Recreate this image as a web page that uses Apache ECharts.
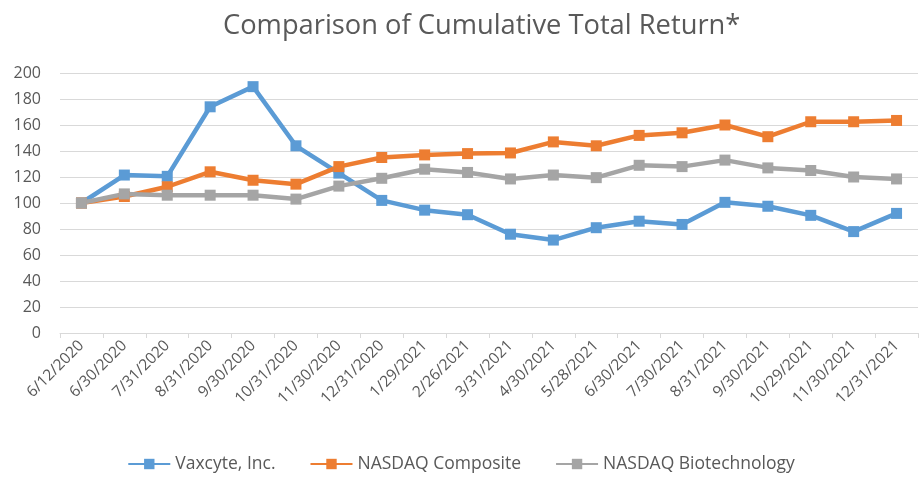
<!DOCTYPE html>
<html><head><meta charset="utf-8">
<script src="https://cdn.jsdelivr.net/npm/echarts@6/dist/echarts.min.js"></script>
<style>html,body{margin:0;padding:0;background:#fff}#c{width:922px;height:477px}</style>
</head><body><div id="c"></div>
<script>
const categories = ["6/12/2020","6/30/2020","7/31/2020","8/31/2020","9/30/2020","10/31/2020","11/30/2020","12/31/2020","1/29/2021","2/26/2021","3/31/2021","4/30/2021","5/28/2021","6/30/2021","7/30/2021","8/31/2021","9/30/2021","10/29/2021","11/30/2021","12/31/2021"];
const vaxcyte = [100,121.5,120.5,174,189.5,144,123,102,94.5,91,76,71.5,81,86,83.5,100.5,97.5,90.5,78,92];
const nasdaqComposite = [100,105,112.5,124,117.5,114.5,128,135,137,138,138.5,147,144,152,154,160,151,162.5,162.5,163.5];
const nasdaqBiotech = [100,107,106,106,106,103,113,119,126,123.5,118.5,121.5,119.5,129,128,133,127,125,120,118.5];
const yTicks = {min:0, max:200, interval:20};

const font = "'Open Sans', 'Liberation Sans', sans-serif";
const chart = echarts.init(document.getElementById('c'));
function mk(name, data, color){
  return {name, type:'line', data, symbol:'rect', symbolSize:11,
    lineStyle:{width:4.5,color}, itemStyle:{color}, color};
}
chart.setOption({
  animation:false,
  title:{text:'Comparison of Cumulative Total Return*', left:218, top:8,
    textStyle:{fontFamily:font, fontSize:27.3, fontWeight:'normal', color:'#595959'}},
  grid:{left:60, right:4, top:73, bottom:144},
  legend:{bottom:-1, left:'center', itemWidth:42, itemHeight:13, itemGap:34,
    textStyle:{fontFamily:font, fontSize:17.5, color:'#595959'},
    data:['Vaxcyte, Inc.','NASDAQ Composite','NASDAQ Biotechnology']},
  xAxis:{type:'category', data:categories, boundaryGap:true,
    axisLine:{lineStyle:{color:'#d9d9d9'}},
    axisTick:{show:true, length:5, lineStyle:{color:'#d9d9d9'}},
    axisLabel:{rotate:45, interval:0, fontFamily:font, fontSize:15.5, color:'#595959', margin:10}},
  yAxis:{type:'value', min:yTicks.min, max:yTicks.max, interval:yTicks.interval,
    axisLine:{show:false}, axisTick:{show:false},
    splitLine:{lineStyle:{color:'#d9d9d9'}},
    axisLabel:{fontFamily:font, fontSize:16, color:'#595959', margin:19}},
  series:[mk('Vaxcyte, Inc.', vaxcyte, '#5b9bd5'),
          mk('NASDAQ Composite', nasdaqComposite, '#ed7d31'),
          mk('NASDAQ Biotechnology', nasdaqBiotech, '#a5a5a5')]
});
</script></body></html>
